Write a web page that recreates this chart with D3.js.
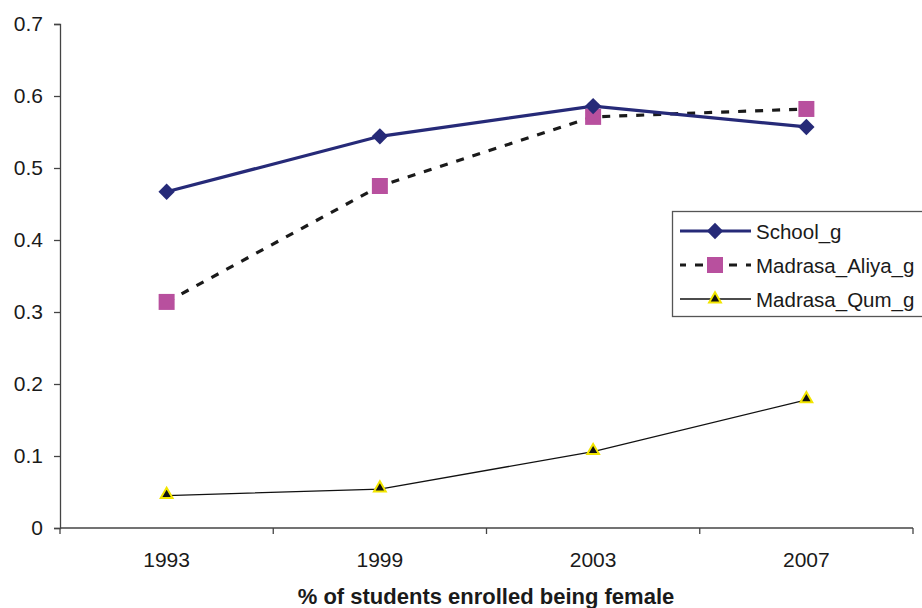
<!DOCTYPE html>
<html>
<head>
<meta charset="utf-8">
<script src="https://cdn.jsdelivr.net/npm/d3@7"></script>
<style>
    body { margin: 0; background: #fff; }
    svg text { font-family: "Liberation Sans", Arial, sans-serif; fill: #1a1a1a; }
</style>
</head>
<body>
<div id="chart"></div>
<script>
(function () {

    'use strict';

    var years = ['1993', '1999', '2003', '2007'];
    var schoolG = [0.467, 0.544, 0.586, 0.557];
    var madrasaAliyaG = [0.314, 0.475, 0.571, 0.582];
    var madrasaQumG = [0.045, 0.054, 0.106, 0.178];
    var yTicks = [0, 0.1, 0.2, 0.3, 0.4, 0.5, 0.6, 0.7];
    var xTitle = '% of students enrolled being female';

    var width = 922;
    var height = 608;
    var left = 60, right = 913, top = 24, bottom = 528;

    var svg = d3.select('#chart')
        .append('svg')
            .attr('width', width)
            .attr('height', height);

    var x = d3.scaleBand().domain(years).range([left, right]).padding(0);
    var y = d3.scaleLinear().domain([0, 0.7]).range([bottom, top]);

    // y axis
    var yAxis = svg.append('g')
        .attr('transform', 'translate(' + left + ',0)')
        .call(d3.axisLeft(y).tickValues(yTicks).tickSize(6).tickPadding(11)
            .tickFormat(function (d) { return d === 0 ? '0' : d3.format('.1f')(d); }));
    yAxis.select('.domain').attr('stroke', '#444').attr('stroke-width', 1.3);
    yAxis.selectAll('line').attr('stroke', '#444').attr('stroke-width', 1.3);
    yAxis.selectAll('text').style('font-size', '21px').attr('fill', '#1a1a1a');

    // x axis, ticks on band edges
    var xAxis = svg.append('g')
        .attr('transform', 'translate(0,' + bottom + ')');
    xAxis.append('line')
        .attr('x1', left).attr('x2', right)
        .attr('stroke', '#444').attr('stroke-width', 1.3);
    xAxis.selectAll('.edge')
        .data(years.concat(['end']))
        .enter()
        .append('line')
            .attr('x1', function (d, i) { return left + i * x.bandwidth(); })
            .attr('x2', function (d, i) { return left + i * x.bandwidth(); })
            .attr('y1', 0).attr('y2', 6)
            .attr('stroke', '#444').attr('stroke-width', 1.3);
    xAxis.selectAll('.lbl')
        .data(years)
        .enter()
        .append('text')
            .attr('x', function (d) { return x(d) + x.bandwidth() / 2; })
            .attr('y', 38.5)
            .attr('text-anchor', 'middle')
            .style('font-size', '21px')
            .text(function (d) { return d; });

    svg.append('text')
        .attr('x', 486)
        .attr('y', 604)
        .attr('text-anchor', 'middle')
        .style('font-size', '22px')
        .style('font-weight', 'bold')
        .text(xTitle);

    var cx = function (i) { return x(years[i]) + x.bandwidth() / 2; };

    var line = d3.line()
        .x(function (d, i) { return cx(i); })
        .y(function (d) { return y(d); });

    // Madrasa_Qum_g
    svg.append('path')
        .datum(madrasaQumG)
        .attr('d', line)
        .attr('fill', 'none')
        .attr('stroke', '#111')
        .attr('stroke-width', 1.3);

    // Madrasa_Aliya_g
    svg.append('path')
        .datum(madrasaAliyaG)
        .attr('d', line)
        .attr('fill', 'none')
        .attr('stroke', '#1a1a1a')
        .attr('stroke-width', 3.2)
        .attr('stroke-dasharray', '8,9');

    // School_g
    svg.append('path')
        .datum(schoolG)
        .attr('d', line)
        .attr('fill', 'none')
        .attr('stroke', '#262a78')
        .attr('stroke-width', 3.2);

    var diamond = d3.symbol().type(d3.symbolDiamond2).size(170);
    var square = d3.symbol().type(d3.symbolSquare).size(256);
    var triangle = d3.symbol().type(d3.symbolTriangle).size(60);

    svg.selectAll('.qum')
        .data(madrasaQumG)
        .enter()
        .append('path')
            .attr('d', triangle)
            .attr('transform', function (d, i) { return 'translate(' + cx(i) + ',' + (y(d) - 1) + ')'; })
            .attr('fill', '#111')
            .attr('stroke', '#f2e500')
            .attr('stroke-width', 2);

    svg.selectAll('.aliya')
        .data(madrasaAliyaG)
        .enter()
        .append('path')
            .attr('d', square)
            .attr('transform', function (d, i) { return 'translate(' + cx(i) + ',' + y(d) + ')'; })
            .attr('fill', '#b8509e');

    svg.selectAll('.school')
        .data(schoolG)
        .enter()
        .append('path')
            .attr('d', diamond)
            .attr('transform', function (d, i) { return 'translate(' + cx(i) + ',' + y(d) + ')'; })
            .attr('fill', '#262a78');

    // legend
    var legend = svg.append('g');
    legend.append('rect')
        .attr('x', 672.5).attr('y', 211.5)
        .attr('width', 260).attr('height', 105)
        .attr('fill', '#fff')
        .attr('stroke', '#555').attr('stroke-width', 1.3);

    var legendItems = [
        { name: 'School_g', color: '#262a78', width: 3.2, dash: null, sym: diamond, fill: '#262a78', stroke: 'none' },
        { name: 'Madrasa_Aliya_g', color: '#1a1a1a', width: 3.2, dash: '8,9', sym: square, fill: '#b8509e', stroke: 'none' },
        { name: 'Madrasa_Qum_g', color: '#111', width: 1.3, dash: null, sym: triangle, fill: '#111', stroke: '#f2e500' }
    ];

    var rows = legend.selectAll('.row')
        .data(legendItems)
        .enter()
        .append('g')
            .attr('transform', function (d, i) { return 'translate(0,' + (231 + i * 34) + ')'; });

    rows.append('line')
        .attr('x1', 680).attr('x2', 751)
        .attr('stroke', function (d) { return d.color; })
        .attr('stroke-width', function (d) { return d.width; })
        .attr('stroke-dasharray', function (d) { return d.dash; })
        .attr('stroke-dashoffset', function (d) { return d.dash ? 2 : 0; });

    rows.append('path')
        .attr('d', function (d) { return d.sym(); })
        .attr('transform', 'translate(715,0)')
        .attr('fill', function (d) { return d.fill; })
        .attr('stroke', function (d) { return d.stroke; })
        .attr('stroke-width', 2);

    rows.append('text')
        .attr('x', 756)
        .attr('y', 7.5)
        .style('font-size', '20.5px')
        .text(function (d) { return d.name; });

}());
</script>
</body>
</html>
